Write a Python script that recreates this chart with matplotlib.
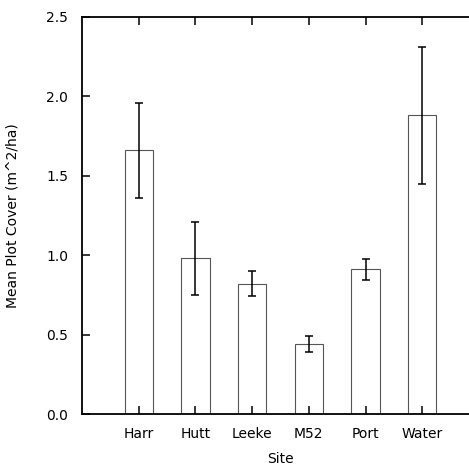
import matplotlib
matplotlib.use('Agg')
import matplotlib.pyplot as plt

sites = ['Harr', 'Hutt', 'Leeke', 'M52', 'Port', 'Water']
mean_cover = [1.66, 0.98, 0.82, 0.44, 0.91, 1.88]
err_cover = [0.30, 0.23, 0.08, 0.05, 0.065, 0.43]

plt.rcParams['font.family'] = ['DejaVu Sans']
plt.rcParams['font.size'] = 10

fig = plt.figure(figsize=(4.69, 4.76), dpi=100)
# axes runs past the right edge of the figure, like the original crop
ax = fig.add_axes([82 / 469, 62 / 476, 397 / 469, 397 / 476])

x = range(1, len(sites) + 1)
ax.bar(x, mean_cover, width=0.5, color='white', edgecolor='#555555', linewidth=0.8)
ax.errorbar(x, mean_cover, yerr=err_cover, fmt='none', ecolor='black',
            elinewidth=1.1, capsize=3.2, capthick=1.1)

ax.set_xlim(0, 7)
ax.set_ylim(0, 2.5)
ax.set_yticks([0.0, 0.5, 1.0, 1.5, 2.0, 2.5])
ax.set_yticklabels(['0.0', '0.5', '1.0', '1.5', '2.0', '2.5'])
ax.set_xticks(list(x))
ax.set_xticklabels(sites)

for s in ax.spines.values():
    s.set_linewidth(1.3)
ax.tick_params(axis='both', direction='in', length=6, width=1.1, pad=10,
               labelsize=10, colors='black')
ax.tick_params(axis='x', top=True, pad=9)

ax.set_xlabel('Site', labelpad=8)
ax.set_ylabel('Mean Plot Cover (m^2/ha)', labelpad=19)

fig.savefig('out.png', dpi=100)
